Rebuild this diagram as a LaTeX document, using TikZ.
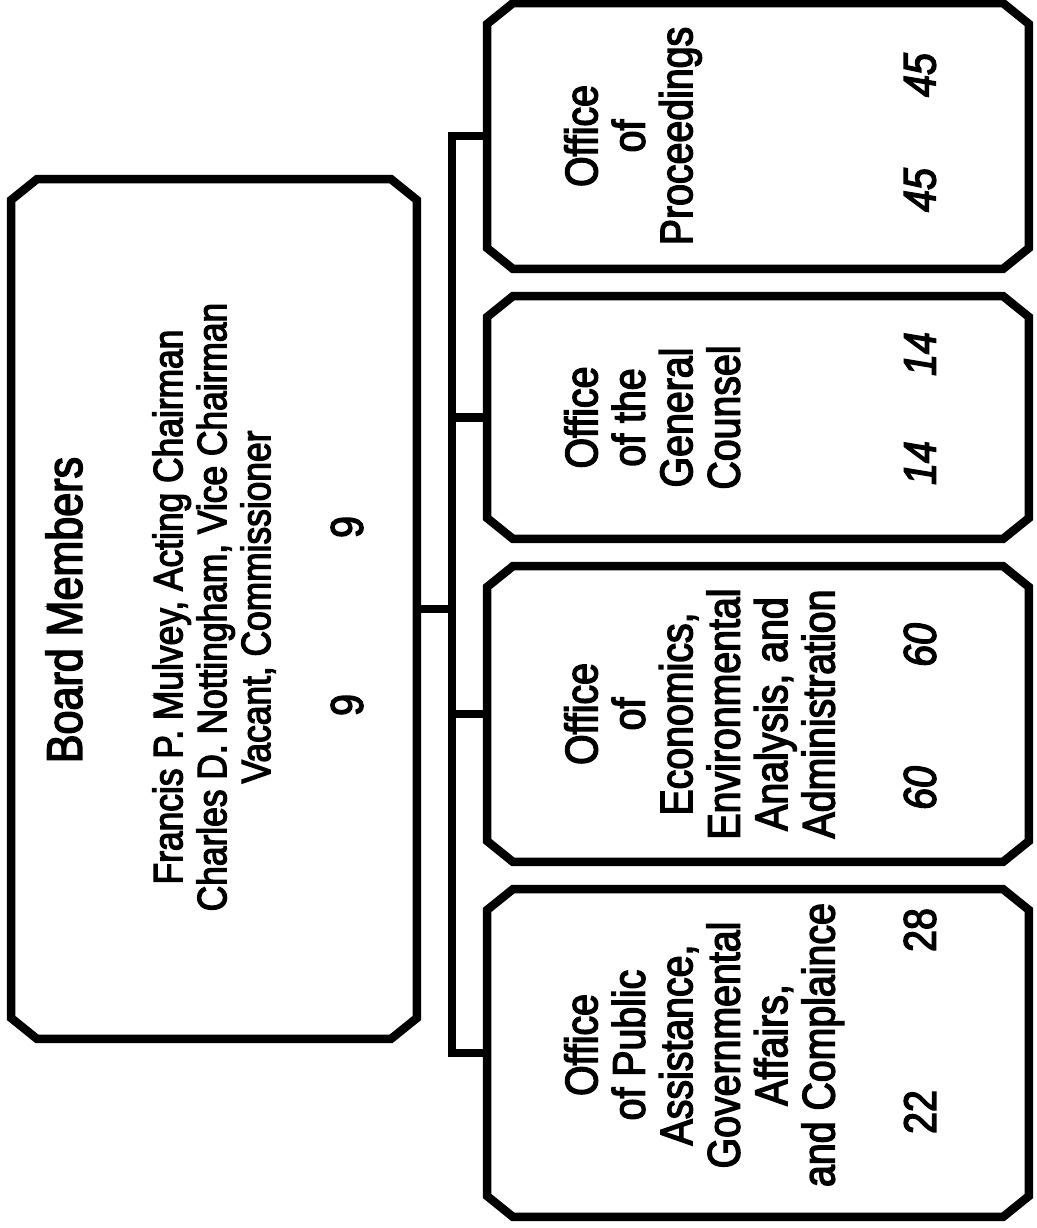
\documentclass[tikz,border=0pt]{standalone}
\usepackage{fontspec}
\setmainfont{Liberation Sans}[FakeStretch=0.86, FakeBold=3]
\usetikzlibrary{calc}

\begin{document}
\begin{tikzpicture}[x=0.02cm, y=-0.02cm, line width=0.17cm,
    box/.style={rectangle, inner sep=0pt, outer sep=0pt,
      append after command={\pgfextra{\draw
        ([xshift=0.52cm]\tikzlastnode.north west) -- ([xshift=-0.52cm]\tikzlastnode.north east)
        -- ([yshift=-0.42cm]\tikzlastnode.north east) -- ([yshift=0.42cm]\tikzlastnode.south east)
        -- ([xshift=-0.52cm]\tikzlastnode.south east) -- ([xshift=0.52cm]\tikzlastnode.south west)
        -- ([yshift=0.42cm]\tikzlastnode.south west) -- ([yshift=-0.42cm]\tikzlastnode.north west)
        -- cycle;}}},
    office/.style={box, minimum width=10.84cm},
    txt/.style={rotate=90, inner sep=0pt, align=center, font=\fontsize{26}{27}\selectfont},
    head/.style={txt, anchor=north},
    cnt/.style={txt, font=\fontsize{26}{27}\selectfont\itshape}]
  \useasboundingbox (0,0) rectangle (1036,1228);

  \node[box, minimum width=8.12cm, minimum height=17.2cm] (board) at (214,609) {};
  \node[office, minimum height=5.32cm] (proc) at (758,136) {};
  \node[office, minimum height=4.86cm] (counsel) at (758,417.5) {};
  \node[office, minimum height=5.92cm] (econ) at (758,714) {};
  \node[office, minimum height=6.56cm] (pubaff) at (758,1053) {};

  \node[txt, font=\fontsize{28.5}{30}\selectfont] (board-title) at (64,610) {Board Members};
  \node[txt, font=\fontsize{23.4}{25}\selectfont] (board-names) at (214,607)
    {Francis P. Mulvey, Acting Chairman\\Charles D. Nottingham, Vice Chairman\\Vacant, Commissioner};
  \node[txt] (board-a) at (347,705) {9};
  \node[txt] (board-b) at (347,527) {9};

  \node[head] (proc-t) at (560,136) {Office\\of\\Proceedings};
  \node[cnt] (proc-a) at (920,190) {45};
  \node[cnt] (proc-b) at (920,75) {45};

  \node[head] (counsel-t) at (560,417.5) {Office\\of the\\General\\Counsel};
  \node[cnt] (counsel-a) at (920,463) {14};
  \node[cnt] (counsel-b) at (920,354) {14};

  \node[head] (econ-t) at (560,714) {Office\\of\\Economics,\\Environmental\\Analysis, and\\Administration};
  \node[cnt] (econ-a) at (920,788) {60};
  \node[cnt] (econ-b) at (920,645) {60};

  \node[head] (pubaff-t) at (560,1045) {Office\\of Public\\Assistance,\\Governmental\\Affairs,\\and Complaince};
  \node[txt] (pubaff-a) at (920,1112) {22};
  \node[txt] (pubaff-b) at (920,930) {28};

  \coordinate (bus) at (452,609);
  \draw (board.east) -- (bus);
  \draw (proc.west) -- (proc.west -| bus) -- (pubaff.west -| bus) -- (pubaff.west);
  \draw (counsel.west -| bus) -- (counsel.west);
  \draw (econ.west -| bus) -- (econ.west);
\end{tikzpicture}
\end{document}
